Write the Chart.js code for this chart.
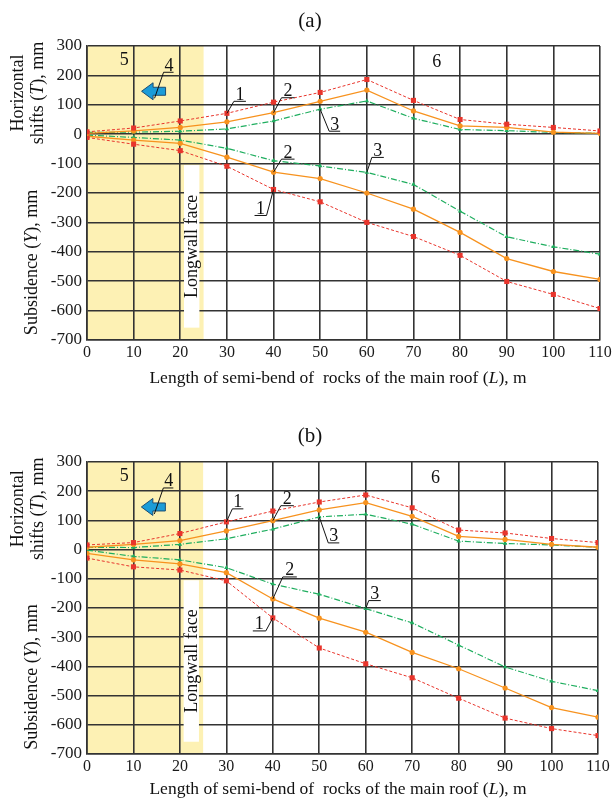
<!DOCTYPE html>
<html><head><meta charset="utf-8">
<script src="https://cdn.jsdelivr.net/npm/chart.js@4.4.1/dist/chart.umd.min.js"></script>
<style>
html,body{margin:0;padding:0;background:#fff;overflow:hidden;width:616px;height:800px;}
.wrap{position:absolute;left:0;width:616px;}
#w1{top:0;height:400px;}
#w2{top:415px;height:385px;}
</style></head><body>
<div class="wrap" id="w1"><canvas id="c1"></canvas></div>
<div class="wrap" id="w2"><canvas id="c2"></canvas></div>
<script>
// ---------- data ----------
const xValues = [0,10,20,30,40,50,60,70,80,90,100,110];
const xTickLabels = ['0','10','20','30','40','50','60','70','80','90','100','110'];
const yTickLabels = ['-700','-600','-500','-400','-300','-200','-100','0','100','200','300'];

// (a) horizontal shifts (T), mm
const aShift1 = [8,21,45,71,109,142,186,115,50,34,23,11];
const aShift2 = [3,11,23,42,73,112,150,79,28,23,7,3];
const aShift3 = [6,7,10,18,45,85,113,54,16,12,6,3];
// (a) subsidence (Y), mm
const aSub1 = [-11,-34,-56,-109,-188,-230,-300,-348,-412,-501,-545,-593];
const aSub2 = [-7,-20,-31,-78,-129,-151,-200,-255,-334,-423,-467,-494];
const aSub3 = [-3,-11,-20,-48,-90,-108,-130,-171,-262,-349,-383,-408];

// (b) horizontal shifts (T), mm
const bShift1 = [16,24,55,95,132,163,187,143,67,57,38,24];
const bShift2 = [8,18,31,64,99,136,161,114,45,35,18,8];
const bShift3 = [8,7,18,37,70,112,121,87,29,21,16,8];
// (b) subsidence (Y), mm
const bSub1 = [-29,-59,-70,-107,-234,-337,-391,-439,-509,-577,-613,-637];
const bSub2 = [-13,-35,-49,-79,-169,-235,-283,-352,-408,-474,-541,-574];
const bSub3 = [-2,-23,-35,-62,-118,-153,-202,-251,-327,-402,-451,-483];

const seriesNames = ['1','2','3'];
const zoneLongwall = [0,25];   // shaded zone (x range)

// ---------- styles ----------
const SERIF = '"Liberation Serif", "Times New Roman", serif';
const styles = [
  {color:'#e8352c', dash:[3,2], width:1, pointStyle:'rect', radius:3.6},
  {color:'#f7921e', dash:[], width:1.3, pointStyle:'circle', radius:2.6},
  {color:'#1fae5f', dash:[6,2,1,2], width:1.2, pointStyle:'triangle', radius:2.6}
];

function makeDatasets(arrs){
  return arrs.map((arr,k)=>{
    const st = styles[k%3];
    return {
      data: xValues.map((x,i)=>({x:x, y:arr[i]})),
      borderColor: st.color, backgroundColor: st.color,
      borderWidth: st.width, borderDash: st.dash,
      pointStyle: st.pointStyle, pointRadius: st.radius,
      pointBorderWidth: 0, pointBackgroundColor: st.color,
      tension: 0, fill:false
    };
  });
}

function richText(ctx, segs, x, y, rot){
  ctx.save();
  ctx.translate(x,y);
  if(rot) ctx.rotate(rot);
  let total = 0;
  segs.forEach(s=>{ctx.font=s.f; total += ctx.measureText(s.t).width;});
  let cx = -total/2;
  ctx.textAlign='left';
  segs.forEach(s=>{ctx.font=s.f; ctx.fillText(s.t,cx,0); cx += ctx.measureText(s.t).width;});
  ctx.restore();
}

const bgPlugin = {
  id:'bgZone',
  beforeDraw(chart){
    const {ctx, chartArea, scales} = chart;
    const x0 = scales.x.getPixelForValue(zoneLongwall[0]);
    const x1 = scales.x.getPixelForValue(zoneLongwall[1]);
    ctx.save();
    ctx.fillStyle = '#fdf1b4';
    ctx.fillRect(x0, chartArea.top, x1-x0, chartArea.bottom-chartArea.top);
    ctx.restore();
  }
};

function annotPlugin(cfg){
  return {
    id:'annot',
    afterDraw(chart){
      const {ctx, chartArea, scales} = chart;
      const X = v=>scales.x.getPixelForValue(v), Y = v=>scales.y.getPixelForValue(v);
      ctx.save();
      ctx.fillStyle = '#111'; ctx.strokeStyle='#111';
      // title
      ctx.font = '21px '+SERIF; ctx.textAlign='center'; ctx.textBaseline='middle';
      ctx.fillText(cfg.title, 310, cfg.titleY);
      // Longwall face box
      const bx0 = X(20.8), bx1 = X(24.1);
      const by0 = Y(-105), by1 = Y(-658);
      ctx.fillStyle='#fff';
      ctx.fillRect(bx0, by0, bx1-bx0, by1-by0);
      ctx.fillStyle='#111';
      ctx.save();
      ctx.translate((bx0+bx1)/2+1, (by0+by1)/2);
      ctx.rotate(-Math.PI/2);
      ctx.font='18px '+SERIF; ctx.textAlign='center'; ctx.textBaseline='middle';
      ctx.fillText('Longwall face',0,0);
      ctx.restore();
      // zone labels 5 and 6
      ctx.font='18px '+SERIF; ctx.textAlign='center'; ctx.textBaseline='middle';
      ctx.fillText('5', X(8), Y(250));
      ctx.fillText('6', X(75), Y(245));
      // arrow
      const tx = X(11.7), ty = Y(146);
      ctx.beginPath();
      ctx.moveTo(tx, ty);
      ctx.lineTo(tx+11.5, ty-8.5);
      ctx.lineTo(tx+11.5, ty-4);
      ctx.lineTo(tx+24, ty-4);
      ctx.lineTo(tx+24, ty+4);
      ctx.lineTo(tx+11.5, ty+4);
      ctx.lineTo(tx+11.5, ty+8.5);
      ctx.closePath();
      ctx.fillStyle='#1b9cd8'; ctx.fill();
      ctx.lineWidth=1; ctx.strokeStyle='#1c4d73'; ctx.stroke();
      // label 4
      ctx.strokeStyle='#111'; ctx.fillStyle='#111'; ctx.lineWidth=1;
      ctx.beginPath();
      ctx.moveTo(tx+13, ty+7); ctx.lineTo(tx+22, ty-19); ctx.lineTo(tx+32, ty-19);
      ctx.stroke();
      ctx.font='18px '+SERIF; ctx.textBaseline='alphabetic';
      ctx.fillText('4', tx+27.5, ty-20.5);
      // series number leaders
      cfg.leaders.forEach(L=>{
        const pt = chart.getDatasetMeta(L.ds).data[L.i];
        const px = pt.x, py = pt.y;
        const ex = px+L.dx, ey = py+L.dy, ux = ex+L.w;
        ctx.beginPath();
        ctx.moveTo(px,py); ctx.lineTo(ex,ey); ctx.lineTo(ux,ey);
        ctx.stroke();
        ctx.textAlign='center'; ctx.textBaseline='alphabetic';
        ctx.fillText(seriesNames[L.ds%3], (ex+ux)/2, ey-1.5);
      });
      // axis titles
      ctx.textBaseline='middle';
      const rf = '18px '+SERIF, itf = 'italic 18px '+SERIF;
      const hy = Y(140);
      richText(ctx, [{t:'Horizontal', f:rf}], 18.5, hy, -Math.PI/2);
      richText(ctx, [{t:'shifts (', f:rf},{t:'T', f:itf},{t:'), mm', f:rf}], 38, hy, -Math.PI/2);
      richText(ctx, [{t:'Subsidence (', f:rf},{t:'Y', f:itf},{t:'), mm', f:rf}], 32.5, Y(-436), -Math.PI/2);
      ctx.textBaseline='alphabetic';
      const xf = '17.5px '+SERIF, xif = 'italic 17.5px '+SERIF;
      richText(ctx, [{t:'Length of semi-bend of  rocks of the main roof (', f:xf},{t:'L', f:xif},{t:'), m', f:xf}], 338, chartArea.bottom+cfg.xTitleOff, 0);
      ctx.restore();
    }
  };
}

function makeChart(id, arrs, cfg){
  const gridColor = '#333';
  const tickFont = {family: SERIF, size: 17};
  return new Chart(document.getElementById(id), {
    type:'line',
    data:{datasets: makeDatasets(arrs)},
    options:{
      responsive:true, maintainAspectRatio:false, animation:false,
      layout:{padding:{top:cfg.padTop, right:cfg.padRight, left:0, bottom:0}},
      plugins:{legend:{display:false}, tooltip:{enabled:false}, title:{display:false}},
      scales:{
        x:{type:'linear', min:0, max:110,
           ticks:{stepSize:10, autoSkip:false, maxRotation:0, padding:3, color:'#1a1a1a',
                  font:{family:SERIF, size:16},
                  callback:(v)=>xTickLabels[Math.round(v/10)]},
           grid:{color:gridColor, lineWidth:1.6, drawTicks:false},
           border:{color:gridColor, width:1.6},
           afterFit(s){s.height = cfg.xH;}
        },
        y:{min:-700, max:300,
           ticks:{stepSize:100, padding:5, color:'#1a1a1a', font:tickFont,
                  callback:(v)=>yTickLabels[Math.round((v+700)/100)]},
           grid:{color:gridColor, lineWidth:1.6, drawTicks:false},
           border:{color:gridColor, width:1.6},
           afterFit(s){s.width = 87;}
        }
      }
    },
    plugins:[bgPlugin, annotPlugin(cfg)]
  });
}

makeChart('c1', [aShift1,aShift2,aShift3,aSub1,aSub2,aSub3], {
  padTop:46, padRight:16, xH:60, title:'(a)', titleY:21, xTitleOff:43,
  leaders:[
    {ds:0, i:3, dx:7, dy:-12, w:12},
    {ds:1, i:4, dx:8, dy:-15, w:13},
    {ds:2, i:5, dx:9, dy:22, w:11},
    {ds:4, i:4, dx:8, dy:-13, w:13},
    {ds:5, i:6, dx:5, dy:-15, w:12},
    {ds:3, i:4, dx:-7, dy:26, w:-12}
  ]
});
makeChart('c2', [bShift1,bShift2,bShift3,bSub1,bSub2,bSub3], {
  padTop:47, padRight:18, xH:46, title:'(b)', titleY:21, xTitleOff:40,
  leaders:[
    {ds:0, i:3, dx:6, dy:-13, w:11},
    {ds:1, i:4, dx:8, dy:-15, w:13},
    {ds:2, i:5, dx:9, dy:26, w:11},
    {ds:4, i:4, dx:10, dy:-22, w:14},
    {ds:5, i:6, dx:3, dy:-8, w:12},
    {ds:3, i:4, dx:-7, dy:13, w:-13}
  ]
});
</script>
</body></html>
